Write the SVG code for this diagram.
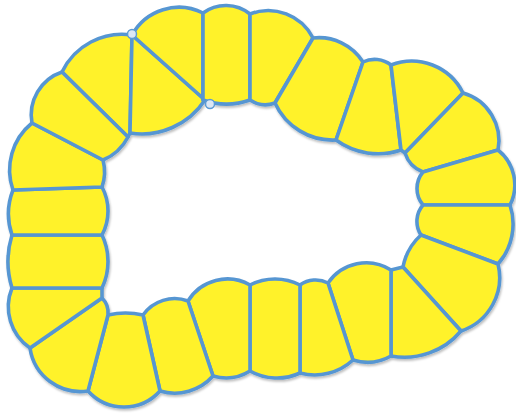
<svg xmlns="http://www.w3.org/2000/svg" width="516" height="417" viewBox="0 0 516 417">
<style>
.seg{fill:#FFF22B;stroke:#5796D2;stroke-width:3.6;stroke-linejoin:round}
.handle{fill:#DCE7F5;stroke:#5B9BD5;stroke-width:1.5}
</style>
<defs>
<filter id="sh" x="-10%" y="-10%" width="120%" height="120%">
<feDropShadow dx="1" dy="2" stdDeviation="1.2" flood-color="#000" flood-opacity="0.25"/>
</filter>
</defs>
<rect width="516" height="417" fill="#fff"/>
<g id="ring" filter="url(#sh)">
<path id="s1" class="seg" d="M128,137 L62,72 A66.8,66.8 0 0 1 132,35 L130,133 Z"/>
<path id="s2" class="seg" d="M130,133 L132,35 L205,100 A75.9,75.9 0 0 1 130,133 Z"/>
<path id="s3" class="seg" d="M205,100 L132,35 A53.5,53.5 0 0 1 203,13 L203,100 Z"/>
<path id="s4" class="seg" d="M203,100 L203,13 A38.5,38.5 0 0 1 250,14 L250,100 A71,71 0 0 1 203,100 Z"/>
<path id="s5" class="seg" d="M250,100 L250,14 A50.2,50.2 0 0 1 313,38 L275,103 A28,28 0 0 1 250,100 Z"/>
<path id="s6" class="seg" d="M275,103 L313,38 A52,52 0 0 1 363,62 L336,140 A63.3,63.3 0 0 1 275,103 Z"/>
<path id="s7" class="seg" d="M336,140 L363,62 A26.8,26.8 0 0 1 391,65 L401,150 A71.6,71.6 0 0 1 336,140 Z"/>
<path id="s8" class="seg" d="M401,150 L391,65 A57.2,57.2 0 0 1 463,93 L405,153 Z"/>
<path id="s9" class="seg" d="M405,153 L463,93 A49.5,49.5 0 0 1 498,150 L423,172 A30,30 0 0 1 405,153 Z"/>
<path id="s10" class="seg" d="M423,172 L498,150 A44.6,44.6 0 0 1 510,205 L423,205 A25.7,25.7 0 0 1 423,172 Z"/>
<path id="s11" class="seg" d="M423,205 L510,205 A60.6,60.6 0 0 1 498,264 L421,235 A25,25 0 0 1 423,205 Z"/>
<path id="s12" class="seg" d="M421,235 L498,264 A56.3,56.3 0 0 1 461,331 L403,267 A57.6,57.6 0 0 1 421,235 Z"/>
<path id="s13" class="seg" d="M403,267 L461,331 A74,74 0 0 1 391,356 L391,270 Z"/>
<path id="s14" class="seg" d="M391,270 L391,356 A47.6,47.6 0 0 1 353,360 L328,283 A46.3,46.3 0 0 1 391,270 Z"/>
<path id="s15" class="seg" d="M328,283 L353,360 A56.7,56.7 0 0 1 300,373 L300,285 A26.6,26.6 0 0 1 328,283 Z"/>
<path id="s16" class="seg" d="M300,285 L300,373 A55,55 0 0 1 250,371 L250,285 A55,55 0 0 1 300,285 Z"/>
<path id="s17" class="seg" d="M250,285 L250,371 A45.6,45.6 0 0 1 213,376 L188,301 A46,46 0 0 1 250,285 Z"/>
<path id="s18" class="seg" d="M188,301 L213,376 A51.4,51.4 0 0 1 160,391 L143,315 A38.7,38.7 0 0 1 188,301 Z"/>
<path id="s19" class="seg" d="M143,315 L160,391 A48.5,48.5 0 0 1 88,391 L108,315 A77.6,77.6 0 0 1 143,315 Z"/>
<path id="s20" class="seg" d="M108,315 L88,391 A50.9,50.9 0 0 1 30,348 L102,298 A21,21 0 0 1 108,315 Z"/>
<path id="s21" class="seg" d="M102,298 L30,348 A50.1,50.1 0 0 1 12,288 L102,288 Z"/>
<path id="s22" class="seg" d="M102,288 L12,288 A89.8,89.8 0 0 1 12,235 L102,235 A61.5,61.5 0 0 1 102,288 Z"/>
<path id="s23" class="seg" d="M102,235 L12,235 A65.3,65.3 0 0 1 13,190 L102,187 A51,51 0 0 1 102,235 Z"/>
<path id="s24" class="seg" d="M102,187 L13,190 A60.6,60.6 0 0 1 32,123 L103,160 A46.6,46.6 0 0 1 102,187 Z"/>
<path id="s25" class="seg" d="M103,160 L32,123 A45.3,45.3 0 0 1 62,72 L128,137 A49.6,49.6 0 0 1 103,160 Z"/>
</g>
<g id="handles">
<circle class="handle" cx="132" cy="34" r="4.5"/>
<circle class="handle" cx="210" cy="104" r="4.5"/>
</g>
</svg>
